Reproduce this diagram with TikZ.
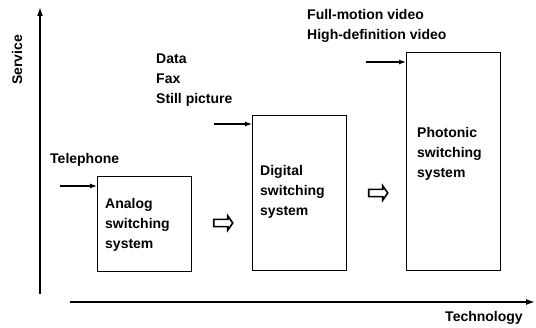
\documentclass[tikz,border=0pt]{standalone}
\usepackage{fontspec}
\setmainfont{Liberation Sans}
\usetikzlibrary{arrows.meta,shapes.arrows}
\begin{document}
\begin{tikzpicture}[x=1pt,y=-1pt,
  lbl/.style={font=\bfseries\fontsize{14}{20}\selectfont, inner sep=0pt, align=left},
  sysbox/.style={draw, line width=1.4pt, inner sep=0pt, anchor=north west},
  axis/.style={line width=1.5pt, -{Latex[length=9pt,width=6pt]}},
  feed/.style={line width=1.2pt, -{Latex[length=7pt,width=5pt]}},
  hollow/.style={single arrow, draw, line width=1.6pt, minimum height=19pt, single arrow head extend=3.5pt, inner sep=2.8pt, single arrow tip angle=110}
]
\useasboundingbox (0,0) rectangle (536,328);
% axes
\coordinate (yb) at (40,294);
\coordinate (yt) at (40,7);
\coordinate (xl) at (70,302);
\coordinate (xr) at (535,302);
\draw[axis] (yb) -- (yt);
\draw[axis] (xl) -- (xr);
\node[lbl, rotate=90] (service) at (17,60) {Service};
\node[lbl] (tech) at (484,318) {Technology};
% boxes
\node[sysbox, minimum width=94pt, minimum height=95pt] (analog) at (97,176) {};
\node[sysbox, minimum width=94pt, minimum height=155pt] (digital) at (252,115) {};
\node[sysbox, minimum width=94pt, minimum height=218pt] (photonic) at (406,52) {};
\node[lbl, anchor=north west] (atext) at (105,198) {Analog\\switching\\system};
\node[lbl, anchor=north west] (dtext) at (260,165) {Digital\\switching\\system};
\node[lbl, anchor=north west] (ptext) at (417,127) {Photonic\\switching\\system};
% service labels
\node[lbl, anchor=west] (tel) at (50,160) {Telephone};
\node[lbl, anchor=north west] (data) at (156,54) {Data\\Fax\\Still picture};
\node[lbl, anchor=north west] (video) at (307,9) {Full-motion video\\High-definition video};
% feed arrows
\coordinate (tin) at (60,186);
\coordinate (din) at (214,124);
\coordinate (pin) at (366,62);
\draw[feed] (tin) -- (tin -| analog.west);
\draw[feed] (din) -- (din -| digital.west);
\draw[feed] (pin) -- (pin -| photonic.west);
% hollow arrows
\node[hollow] (h1) at (222,223) {};
\node[hollow] (h2) at (377,193) {};
\end{tikzpicture}
\end{document}
